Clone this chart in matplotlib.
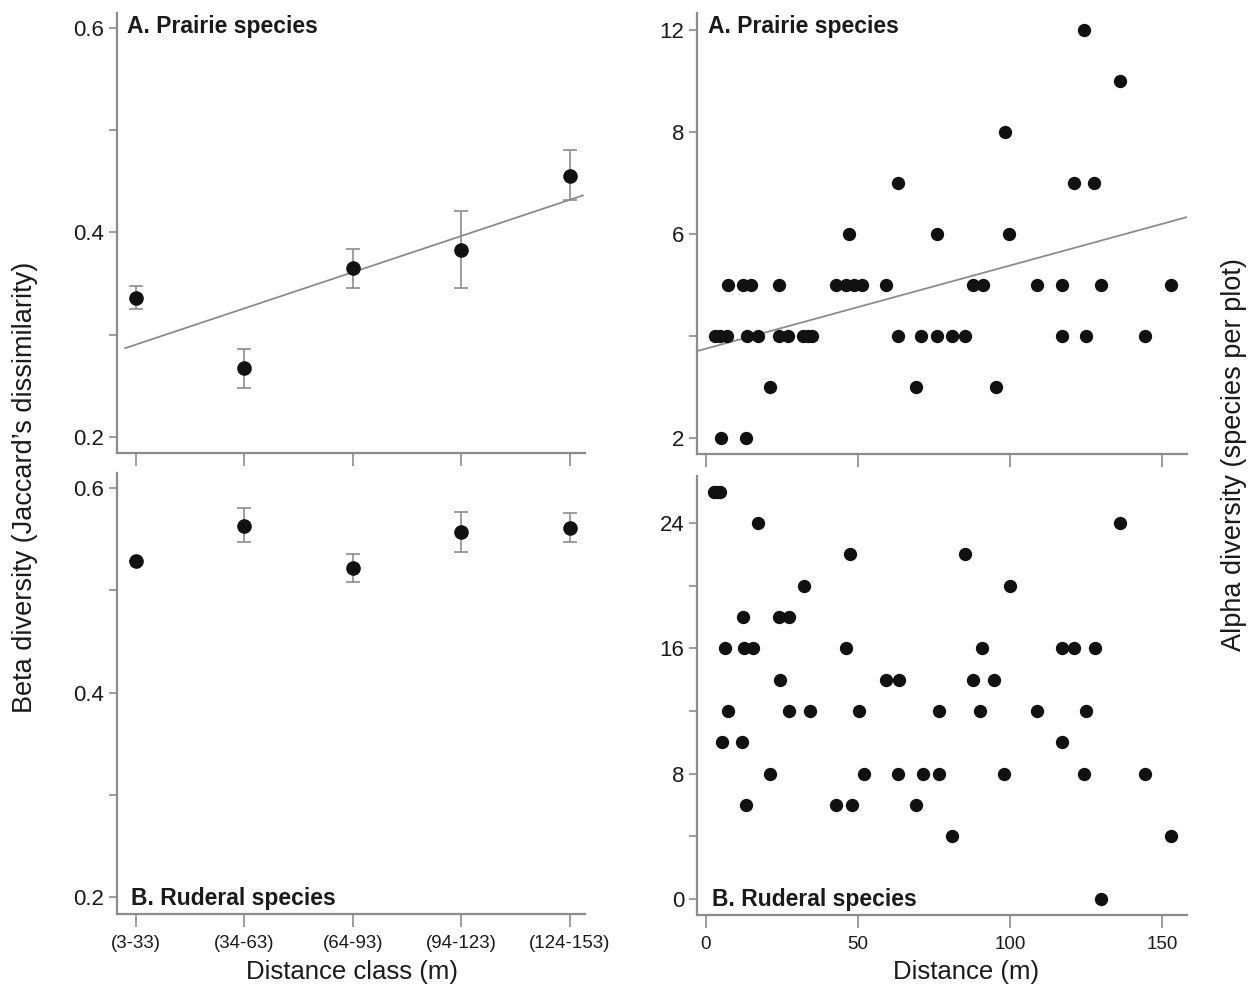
import numpy as np
import matplotlib
matplotlib.use("Agg")
import matplotlib.pyplot as plt

plt.rcParams['font.family'] = ['Liberation Sans', 'DejaVu Sans']

# --- data ---
classes = ['(3-33)', '(34-63)', '(64-93)', '(94-123)', '(124-153)']

beta_prairie = [0.336, 0.267, 0.365, 0.383, 0.455]
beta_prairie_lo = [0.325, 0.248, 0.346, 0.346, 0.432]
beta_prairie_hi = [0.348, 0.286, 0.384, 0.421, 0.481]

beta_ruderal = [0.529, 0.563, 0.522, 0.557, 0.561]
beta_ruderal_lo = [0.529, 0.547, 0.508, 0.537, 0.547]
beta_ruderal_hi = [0.529, 0.580, 0.535, 0.577, 0.576]

# alpha diversity, prairie species (plotted on the original's evenly spaced levels)
prairie_dist = [124.3, 136.1, 98.3,
                63.0, 121.1, 127.7,
                47.0, 76.1, 99.7,
                7.2, 12.2, 14.9, 24.1, 42.6, 46.0, 48.6, 51.2, 59.1, 87.8, 91.1,
                108.8, 117.2, 129.9, 153.1,
                3.0, 4.6, 6.9, 13.5, 17.1, 24.0, 27.0, 32.0, 33.5, 35.0, 63.0,
                70.8, 76.1, 81.0, 85.2, 117.2, 124.9, 144.3,
                21.0, 69.1, 95.3,
                4.9, 13.2]
prairie_alpha = [10, 9, 8,
                 7, 7, 7,
                 6, 6, 6,
                 5, 5, 5, 5, 5, 5, 5, 5, 5, 5, 5,
                 5, 5, 5, 5,
                 4, 4, 4, 4, 4, 4, 4, 4, 4, 4, 4,
                 4, 4, 4, 4, 4, 4, 4,
                 3, 3, 3,
                 2, 2]
prairie_ticks = [2, 4, 6, 8, 10]
prairie_ticklabels = ['2', '', '6', '8', '12']

# alpha diversity, ruderal species
ruderal_dist = [2.5, 3.5, 4.5,
                17.1, 136.1,
                47.2, 85.2,
                32.3, 100.0,
                12.2, 23.9, 27.2,
                6.1, 12.4, 15.4, 45.9, 90.8, 117.2, 121.1, 128.0,
                24.4, 59.1, 63.4, 87.8, 94.7,
                7.1, 27.2, 34.2, 50.3, 76.5, 90.0, 108.8, 124.9,
                5.3, 11.8, 117.2,
                21.0, 52.0, 63.0, 71.4, 76.5, 97.9, 124.2, 144.3,
                13.2, 42.8, 48.1, 69.1,
                81.0, 152.9,
                129.9]
ruderal_alpha = [26, 26, 26,
                 24, 24,
                 22, 22,
                 20, 20,
                 18, 18, 18,
                 16, 16, 16, 16, 16, 16, 16, 16,
                 14, 14, 14, 14, 14,
                 12, 12, 12, 12, 12, 12, 12, 12,
                 10, 10, 10,
                 8, 8, 8, 8, 8, 8, 8, 8,
                 6, 6, 6, 6,
                 4, 4,
                 0]

W, H = 1253, 992
fig = plt.figure(figsize=(W / 100, H / 100), dpi=100)


def rect(x0, y0, x1, y1):
    return [x0 / W, 1 - y1 / H, (x1 - x0) / W, (y1 - y0) / H]


spine_col = '#8c8c8c'
line_col = '#8c8c8c'
txt_col = '#1a1a1a'


def style(ax):
    for s in ['top', 'right']:
        ax.spines[s].set_visible(False)
    for s in ['left', 'bottom']:
        ax.spines[s].set_color(spine_col)
        ax.spines[s].set_linewidth(1.6)
    ax.tick_params(axis='y', colors=spine_col, length=6, width=1.2,
                   labelcolor=txt_col, labelsize=16, pad=3)
    ax.tick_params(axis='x', colors=spine_col, length=9, width=1.2,
                   labelcolor=txt_col, labelsize=13, pad=6)


def panel_label(ax, label, top):
    if top:
        ax.text(0.022, 0.995, label, transform=ax.transAxes, fontsize=16.5,
                fontweight='bold', va='top', ha='left', color=txt_col)
    else:
        ax.text(0.03, 0.008, label, transform=ax.transAxes, fontsize=16.5,
                fontweight='bold', va='bottom', ha='left', color=txt_col)


def beta_panel(ax, vals, lo, hi, label, label_top, fit=False):
    x = np.arange(len(vals))
    vals = np.array(vals)
    yerr = [vals - np.array(lo), np.array(hi) - vals]
    ax.errorbar(x, vals, yerr=yerr, fmt='none', ecolor=line_col, elinewidth=1.2,
                capsize=5, capthick=1.2, zorder=2)
    ax.plot(x, vals, 'o', color='#111111', ms=9.5, zorder=3)
    if fit:
        b, a = np.polyfit(x, vals, 1)
        xl = np.array([-0.1, 4.12])
        ax.plot(xl, a + b * xl, color=line_col, lw=1.3, zorder=1)
    ax.set_xlim(-0.175, 4.14)
    ax.set_yticks([0.2, 0.3, 0.4, 0.5, 0.6])
    ax.set_yticklabels(['0.2', '', '0.4', '', '0.6'])
    ax.set_xticks(x)
    style(ax)
    panel_label(ax, label, label_top)


ax1 = fig.add_axes(rect(117, 13, 585, 453))
beta_panel(ax1, beta_prairie, beta_prairie_lo, beta_prairie_hi,
           'A. Prairie species', True, fit=True)
ax1.set_ylim(0.1843, 0.6147)
ax1.set_xticklabels([])

ax2 = fig.add_axes(rect(117, 473, 585, 914))
beta_panel(ax2, beta_ruderal, beta_ruderal_lo, beta_ruderal_hi,
           'B. Ruderal species', False)
ax2.set_ylim(0.1834, 0.6147)
ax2.set_xticklabels(classes, fontsize=13.5)

# alpha panels
ax3 = fig.add_axes(rect(697, 13, 1187, 454))
ax3.scatter(prairie_dist, prairie_alpha, s=92, color='#111111', zorder=3,
            linewidths=0)
b, a = np.polyfit(prairie_dist, prairie_alpha, 1)
xl = np.array([-3.0, 158.0])
ax3.plot(xl, a + b * xl, color=line_col, lw=1.3, zorder=2)
ax3.set_xlim(-2.96, 158.2)
ax3.set_ylim(1.686, 10.33)
ax3.set_yticks(prairie_ticks)
ax3.set_yticklabels(prairie_ticklabels)
ax3.set_xticks([0, 50, 100, 150])
ax3.set_xticklabels([])
style(ax3)
panel_label(ax3, 'A. Prairie species', True)

ax4 = fig.add_axes(rect(697, 476, 1187, 915))
ax4.scatter(ruderal_dist, ruderal_alpha, s=92, color='#111111', zorder=3,
            linewidths=0)
ax4.set_xlim(-2.96, 158.2)
ax4.set_ylim(-1.02, 27.0)
ax4.set_yticks([0, 4, 8, 12, 16, 20, 24])
ax4.set_yticklabels(['0', '', '8', '', '16', '', '24'])
ax4.set_xticks([0, 50, 100, 150])
style(ax4)
ax4.set_xticklabels(['0', '50', '100', '150'], fontsize=13.5)
panel_label(ax4, 'B. Ruderal species', False)

fig.text(352 / W, 1 - 972 / H, 'Distance class (m)', ha='center', va='center',
         fontsize=18.5, color=txt_col)
fig.text(966 / W, 1 - 972 / H, 'Distance (m)', ha='center', va='center',
         fontsize=18.5, color=txt_col)
fig.text(25 / W, 1 - 487 / H, "Beta diversity (Jaccard\u2019s dissimilarity)",
         rotation=90, ha='center', va='center', fontsize=19.5, color=txt_col)
fig.text(1234 / W, 1 - 455 / H, 'Alpha diversity (species per plot)',
         rotation=90, ha='center', va='center', fontsize=19.5, color=txt_col)

fig.savefig('out.png', dpi=100)
